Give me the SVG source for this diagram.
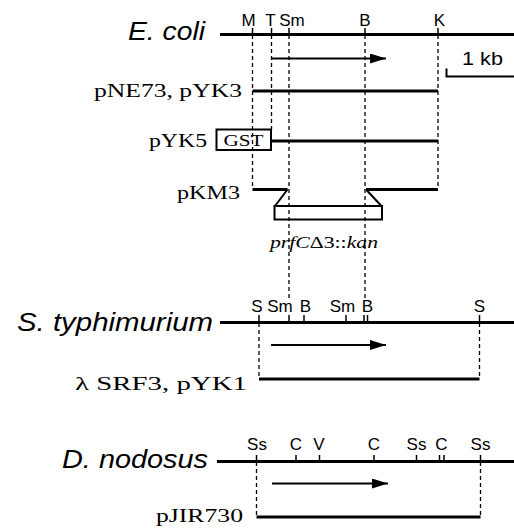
<svg xmlns="http://www.w3.org/2000/svg" width="514" height="529" viewBox="0 0 514 529">
<style>
.sp{font-family:"Liberation Sans",Arial,sans-serif;font-style:italic;font-size:25px;fill:#000}
.site{font-family:"Liberation Sans",Arial,sans-serif;font-size:17px;fill:#000;text-anchor:middle}
.lab{font-family:"Liberation Serif","Times New Roman",serif;font-size:19px;fill:#000}
.chr{stroke:#000;stroke-width:3;fill:none}
.clone{stroke:#000;stroke-width:3;fill:none}
.tick{stroke:#000;stroke-width:1.5}
.dash{stroke:#000;stroke-width:1.3;stroke-dasharray:4 3;fill:none}
.arr{stroke:#000;stroke-width:2;fill:none}
.box{stroke:#000;stroke-width:2;fill:none}
</style>
<defs>
<marker id="ah" viewBox="0 0 16 10" refX="16" refY="5" markerWidth="16" markerHeight="10" markerUnits="userSpaceOnUse" orient="auto">
<path d="M0,0 L16,5 L0,10 Z" fill="#000"/>
</marker>
</defs>

<g id="connectors">
<line class="dash" x1="252.5" y1="35" x2="252.5" y2="189"/>
<line class="dash" x1="271.5" y1="35" x2="271.5" y2="130"/>
<line class="dash" x1="289" y1="35" x2="289" y2="298"/>
<line class="dash" x1="365" y1="35" x2="365" y2="298"/>
<line class="dash" x1="438" y1="35" x2="438" y2="189"/>
<line class="dash" x1="259" y1="323" x2="259" y2="379"/>
<line class="dash" x1="479.5" y1="323" x2="479.5" y2="379"/>
<line class="dash" x1="256.5" y1="462" x2="256.5" y2="517"/>
<line class="dash" x1="480.5" y1="462" x2="480.5" y2="517"/>
</g>

<g id="ecoli">
<text class="sp" x="128" y="40" textLength="77" lengthAdjust="spacingAndGlyphs">E. coli</text>
<line class="chr" x1="220" y1="34.5" x2="514" y2="34.5"/>
<line class="tick" x1="252.5" y1="28" x2="252.5" y2="35"/>
<line class="tick" x1="271.5" y1="28" x2="271.5" y2="35"/>
<line class="tick" x1="289" y1="28" x2="289" y2="35"/>
<line class="tick" x1="365" y1="28" x2="365" y2="35"/>
<line class="tick" x1="438" y1="28" x2="438" y2="35"/>
<text class="site" x="248.5" y="26">M</text>
<text class="site" x="270.5" y="26">T</text>
<text class="site" x="292" y="26">Sm</text>
<text class="site" x="365" y="26">B</text>
<text class="site" x="439.5" y="26">K</text>
<line class="arr" x1="271.5" y1="58.5" x2="386" y2="58.5" marker-end="url(#ah)"/>
</g>

<g id="scale">
<text x="462" y="65" font-family="Liberation Sans, Arial, sans-serif" font-size="18" textLength="41" lengthAdjust="spacingAndGlyphs">1 kb</text>
<path d="M446.5,68.5 V76.5 H514" stroke="#000" stroke-width="2" fill="none"/>
</g>

<g id="pNE73">
<text class="lab" x="94" y="97" textLength="148" lengthAdjust="spacingAndGlyphs">pNE73,  pYK3</text>
<line class="clone" x1="252.5" y1="91" x2="438" y2="91"/>
</g>

<g id="pYK5">
<text class="lab" x="149" y="147" textLength="58" lengthAdjust="spacingAndGlyphs">pYK5</text>
<rect class="box" x="216.5" y="129.5" width="54.5" height="20.5"/>
<text x="243.5" y="146" font-family="Liberation Serif, Times New Roman, serif" font-size="16" text-anchor="middle" textLength="40" lengthAdjust="spacingAndGlyphs">GST</text>
<line class="clone" x1="271" y1="141" x2="438" y2="141"/>
</g>

<g id="pKM3">
<text class="lab" x="177" y="199" textLength="63" lengthAdjust="spacingAndGlyphs">pKM3</text>
<path class="clone" d="M252.5,189.5 H287.5"/>
<path class="clone" d="M366,189.5 H438"/>
<path d="M366,189.5 L381.5,206" stroke="#000" stroke-width="2" fill="none"/>
<path d="M287.5,189.5 L275,206" stroke="#000" stroke-width="2" fill="none"/>
<rect class="box" x="274.5" y="206" width="107.5" height="13.5"/>
<text x="270" y="248" font-family="Liberation Serif, Times New Roman, serif" font-size="17" textLength="108" lengthAdjust="spacingAndGlyphs"><tspan font-style="italic">prfC</tspan>Δ3::<tspan font-style="italic">kan</tspan></text>
</g>

<g id="styphimurium">
<text class="sp" x="17" y="331" textLength="196" lengthAdjust="spacingAndGlyphs">S. typhimurium</text>
<line class="chr" x1="220" y1="322.5" x2="514" y2="322.5"/>
<line class="tick" x1="259" y1="315" x2="259" y2="323"/>
<line class="tick" x1="289" y1="315" x2="289" y2="323"/>
<line class="tick" x1="304" y1="315" x2="304" y2="323"/>
<line class="tick" x1="346" y1="315" x2="346" y2="323"/>
<line class="tick" x1="364" y1="315" x2="364" y2="323"/>
<line class="tick" x1="367.5" y1="315" x2="367.5" y2="323"/>
<line class="tick" x1="479.5" y1="315" x2="479.5" y2="323"/>
<text class="site" x="257" y="312">S</text>
<text class="site" x="280" y="312">Sm</text>
<text class="site" x="305.5" y="312">B</text>
<text class="site" x="342.5" y="312">Sm</text>
<text class="site" x="367.5" y="312">B</text>
<text class="site" x="479.5" y="312">S</text>
<line class="arr" x1="271" y1="345" x2="386" y2="345" marker-end="url(#ah)"/>
</g>

<g id="pYK1">
<text class="lab" x="75" y="390" textLength="172" lengthAdjust="spacingAndGlyphs">λ SRF3,  pYK1</text>
<line class="clone" x1="259" y1="379" x2="479.5" y2="379"/>
</g>

<g id="dnodosus">
<text class="sp" x="62" y="468" textLength="146" lengthAdjust="spacingAndGlyphs">D. nodosus</text>
<line class="chr" x1="217" y1="461.5" x2="514" y2="461.5"/>
<line class="tick" x1="256.5" y1="455" x2="256.5" y2="462"/>
<line class="tick" x1="296" y1="455" x2="296" y2="462"/>
<line class="tick" x1="319.5" y1="455" x2="319.5" y2="462"/>
<line class="tick" x1="374" y1="455" x2="374" y2="462"/>
<line class="tick" x1="416.5" y1="455" x2="416.5" y2="462"/>
<line class="tick" x1="439.5" y1="455" x2="439.5" y2="462"/>
<line class="tick" x1="444" y1="455" x2="444" y2="462"/>
<line class="tick" x1="480.5" y1="455" x2="480.5" y2="462"/>
<text class="site" x="257" y="450">Ss</text>
<text class="site" x="296" y="450">C</text>
<text class="site" x="319" y="450">V</text>
<text class="site" x="374" y="450">C</text>
<text class="site" x="416.5" y="450">Ss</text>
<text class="site" x="441.5" y="450">C</text>
<text class="site" x="480.5" y="450">Ss</text>
<line class="arr" x1="272" y1="483.5" x2="388" y2="483.5" marker-end="url(#ah)"/>
</g>

<g id="pJIR730">
<text class="lab" x="156" y="522" textLength="87" lengthAdjust="spacingAndGlyphs">pJIR730</text>
<line class="clone" x1="256.5" y1="517" x2="480.5" y2="517"/>
</g>
</svg>
